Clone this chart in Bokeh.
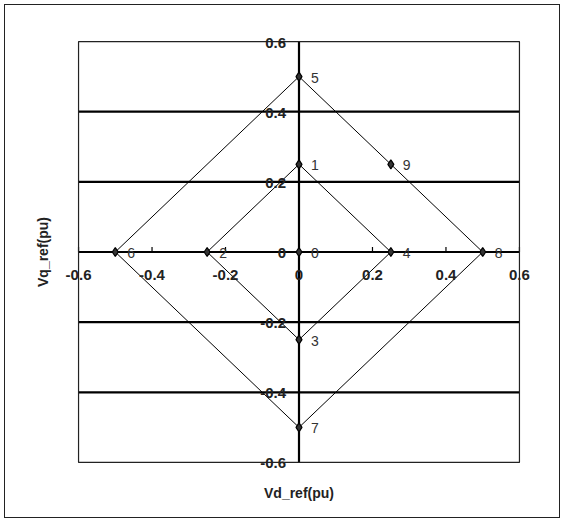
import math
from bokeh.plotting import figure
from bokeh.models import FixedTicker, ColumnDataSource, BoxAnnotation
from bokeh.core.properties import value
from bokeh.embed import file_html
from bokeh.resources import INLINE

# ---- data ----
point_x = [0, 0, -0.25, 0, 0.25, 0, -0.5, 0, 0.5, 0.25]
point_y = [0, 0.25, 0, -0.25, 0, 0.5, 0, -0.5, 0, 0.25]
point_labels = ["0", "1", "2", "3", "4", "5", "6", "7", "8", "9"]

outer_x = [0, 0.5, 0, -0.5, 0]
outer_y = [0.5, 0, -0.5, 0, 0.5]
inner_x = [0, 0.25, 0, -0.25, 0]
inner_y = [0.25, 0, -0.25, 0, 0.25]

x_ticks = [-0.6, -0.4, -0.2, 0, 0.2, 0.4, 0.6]
x_tick_labels = ["-0.6", "-0.4", "-0.2", "0", "0.2", "0.4", "0.6"]
y_ticks = [-0.6, -0.4, -0.2, 0, 0.2, 0.4, 0.6]
y_tick_labels = ["-0.6", "-0.4", "-0.2", "0", "0.2", "0.4", "0.6"]
grid_y = [-0.4, -0.2, 0.2, 0.4]

x_title = "Vd_ref(pu)"
y_title = "Vq_ref(pu)"

FONT = "Liberation Sans"
XMIN, XMAX = x_ticks[0], x_ticks[-1]
YMIN, YMAX = y_ticks[0], y_ticks[-1]
XPAD, YPAD = 0.06, 0.04   # room so that edge tick labels are not clipped

p = figure(width=556, height=514,
           x_range=(XMIN - XPAD, XMAX + XPAD), y_range=(YMIN - YPAD, YMAX + YPAD),
           output_backend="svg", toolbar_location=None,
           min_border_left=51, min_border_top=22, min_border_right=20, min_border_bottom=43)
p.styles = {"border": "1.5px solid #222", "margin-left": "4px", "margin-top": "4px"}
p.background_fill_color = "white"
p.border_fill_color = "white"
p.outline_line_color = None
p.xgrid.grid_line_color = None
p.ygrid.grid_line_color = None

# outer axes: only titles
for ax in (p.xaxis[0], p.yaxis[0]):
    ax.ticker = FixedTicker(ticks=[])
    ax.axis_line_color = None
    ax.major_tick_line_color = None
    ax.minor_tick_line_color = None
    ax.axis_label_text_font = FONT
    ax.axis_label_text_font_style = "bold"
    ax.axis_label_text_font_size = "14px"
    ax.axis_label_text_color = "#222"
p.xaxis.axis_label = x_title
p.yaxis.axis_label = y_title
p.xaxis.axis_label_standoff = 8
p.yaxis.axis_label_standoff = 6

# plot box at the axis limits
p.add_layout(BoxAnnotation(left=XMIN, right=XMAX, bottom=YMIN, top=YMAX,
                           fill_color=None, line_color="#222", line_alpha=1.0,
                           line_width=1.2))

# horizontal grid lines across the box
p.segment(x0=XMIN, x1=XMAX, y0=grid_y, y1=grid_y, line_color="black", line_width=2.2)
# centred axis lines
p.segment(x0=XMIN, x1=XMAX, y0=0, y1=0, line_color="black", line_width=2.2)
p.segment(x0=0, x1=0, y0=YMIN, y1=YMAX, line_color="black", line_width=2.2)
# small tick marks on the horizontal axis
p.ray(x=x_ticks, y=[0] * len(x_ticks), length=5, length_units="screen",
      angle=math.pi / 2, line_color="black", line_width=1.2)

# diamonds
p.line(outer_x, outer_y, line_color="black", line_width=1)
p.line(inner_x, inner_y, line_color="black", line_width=1)

src = ColumnDataSource(dict(x=point_x, y=point_y, t=point_labels))
p.scatter("x", "y", source=src, marker="diamond", size=9,
          fill_color="#333", line_color="black", line_width=1.2)
p.text("x", "y", text="t", source=src, x_offset=12, y_offset=1,
       text_font=value(FONT), text_font_size="14px", text_color="#333",
       text_baseline="middle", text_align="left")

# tick labels at the centred axes
p.text(x=x_ticks, y=[0] * len(x_ticks), text=x_tick_labels, x_offset=0, y_offset=18,
       text_font=value(FONT), text_font_size="15px", text_font_style="bold",
       text_color="#222", text_align="center", text_baseline="top")
p.text(x=[0] * len(y_ticks), y=y_ticks, text=y_tick_labels, x_offset=-13, y_offset=1,
       text_font=value(FONT), text_font_size="15px", text_font_style="bold",
       text_color="#222", text_align="right", text_baseline="middle")

open("out.html", "w").write(file_html(p, INLINE))
